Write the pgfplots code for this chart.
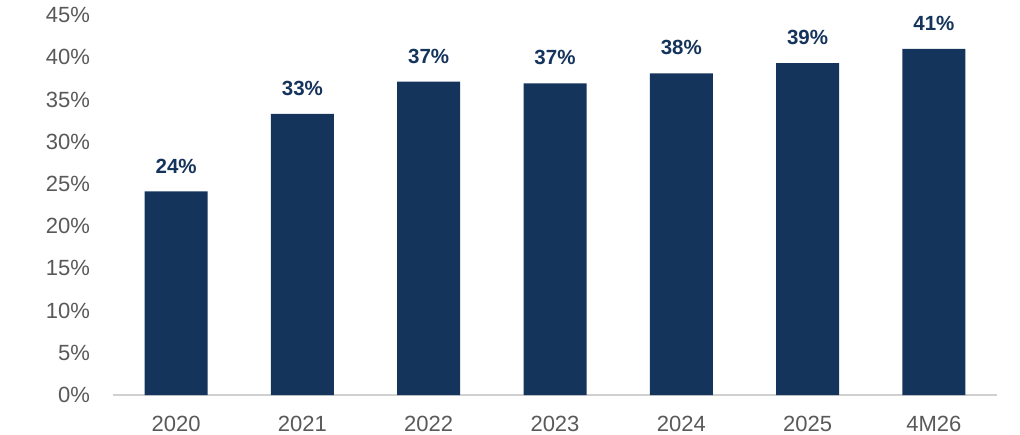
\documentclass[border=0pt]{standalone}
\usepackage{pgfplots}
\pgfplotsset{compat=1.18}
\usepackage{pgfplotstable}
\usepackage{fontspec}
\setmainfont{Liberation Sans}
\definecolor{navy}{RGB}{21,52,92}
\definecolor{tickgrey}{RGB}{89,89,89}
\definecolor{axisgrey}{RGB}{208,208,208}
\pgfplotstableread{
x y label
0 24.1 24\%
1 33.3 33\%
2 37.1 37\%
3 36.9 37\%
4 38.1 38\%
5 39.3 39\%
6 41.0 41\%
}\datatable
\begin{document}
\fontsize{10.25}{12}\selectfont
\begin{tikzpicture}
\path[use as bounding box] (-56.5pt,-19.5pt) rectangle (453.5pt,197.5pt);
\begin{axis}[
  at={(0,0)}, anchor=south west,
  scale only axis,
  width=442pt, height=190pt,
  xmin=-0.5, xmax=6.5,
  ymin=0, ymax=45,
  axis x line=bottom, axis y line=left,
  axis line style={-},
  x axis line style={draw=axisgrey, line width=0.8pt},
  y axis line style={draw=none},
  tick style={draw=none},
  xtick={0,1,2,3,4,5,6},
  xticklabels={2020,2021,2022,2023,2024,2025,4M26},
  ytick={0,5,10,15,20,25,30,35,40,45},
  yticklabels={0\%,5\%,10\%,15\%,20\%,25\%,30\%,35\%,40\%,45\%},
  ticklabel style={font=\fontsize{11}{13}\selectfont, text=tickgrey},
  yticklabel style={xshift=-5.8pt},
  xticklabel style={yshift=-4.8pt},
  clip=false,
]
\addplot[ybar, bar width=31.5pt, fill=navy, draw=none,
  point meta=explicit symbolic,
  nodes near coords,
  every node near coord/.append style={font=\fontsize{10.25}{12}\selectfont\bfseries, text=navy, yshift=5.5pt}
] table[x=x, y=y, meta=label] {\datatable};
\end{axis}
\end{tikzpicture}
\end{document}
